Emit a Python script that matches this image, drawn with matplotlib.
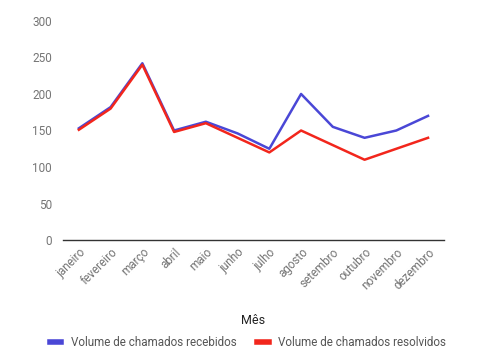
import matplotlib.pyplot as plt
import numpy as np

meses = ['janeiro', 'fevereiro', 'março', 'abril', 'maio', 'junho', 'julho',
         'agosto', 'setembro', 'outubro', 'novembro', 'dezembro']
recebidos = [153, 182, 242, 150, 162, 146, 125, 200, 155, 140, 150, 170]
resolvidos = [151, 180, 240, 148, 160, 140, 120, 150, 130, 110, 125, 140]

plt.rcParams['font.family'] = ['Roboto', 'DejaVu Sans']

fig = plt.figure(figsize=(4.96, 3.6), dpi=100)
ax = fig.add_axes([0.127, 0.333, 0.768, 0.609])

x = np.arange(len(meses))
ax.plot(x, recebidos, color='#4a47d6', lw=1.8, label='Volume de chamados recebidos')
ax.plot(x, resolvidos, color='#f2261c', lw=1.8, label='Volume de chamados resolvidos')

ax.set_xlim(-0.5, len(meses) - 0.5)
ax.set_ylim(0, 300)
ax.set_yticks([0, 50, 100, 150, 200, 250, 300])
ax.set_xticks(x)
ax.set_xticklabels(meses, rotation=45, ha='right', rotation_mode='anchor')

for s in ['top', 'right', 'left']:
    ax.spines[s].set_visible(False)
ax.spines['bottom'].set_color('#333333')
ax.spines['bottom'].set_linewidth(1)
ax.tick_params(axis='both', length=0, colors='#757575', labelsize=8.5)
ax.tick_params(axis='y', pad=8)
ax.tick_params(axis='x', pad=4)

ax.set_xlabel('Mês', fontsize=9, color='#222222', labelpad=16)

leg = fig.legend(loc='lower center', bbox_to_anchor=(0.5, 0.0), ncol=2, frameon=False,
                 fontsize=8.4, handlelength=1.0, handletextpad=0.8, columnspacing=1.8)
for h in leg.get_lines():
    h.set_linewidth(4)
for t in leg.get_texts():
    t.set_color('#555555')

fig.savefig('out.png', dpi=100)
